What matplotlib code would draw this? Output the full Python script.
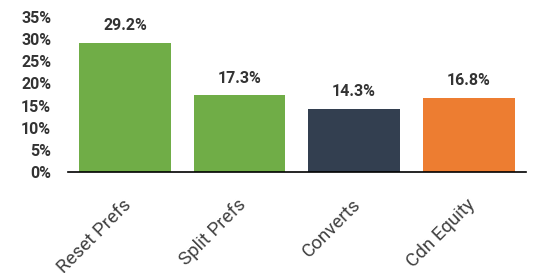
import matplotlib.pyplot as plt
from matplotlib.transforms import ScaledTranslation

categories = ["Reset Prefs", "Split Prefs", "Converts", "Cdn Equity"]
values = [29.2, 17.3, 14.3, 16.8]
colors = ["#70AD47", "#70AD47", "#333F50", "#ED7D31"]
yticks = [0, 5, 10, 15, 20, 25, 30, 35]

plt.rcParams["font.family"] = ["Roboto", "DejaVu Sans"]

fig = plt.figure(figsize=(5.34, 2.73), dpi=100)
ax = fig.add_axes([0.127, 0.37, 0.858, 0.568])

x = range(len(categories))
bars = ax.bar(x, values, width=0.8, color=colors)

for b, v in zip(bars, values):
    ax.annotate(f"{v:.1f}%", (b.get_x() + b.get_width() / 2, v),
                xytext=(0, 7), textcoords="offset points",
                ha="center", va="bottom", fontsize=11.5,
                fontweight="bold", color="#333333")

ax.set_xlim(-0.5, 3.5)
ax.set_ylim(0, 35)
ax.set_yticks(yticks)
ax.set_yticklabels([f"{t}%" for t in yticks], fontsize=11.5,
                   fontweight="bold", color="#333333")
ax.set_xticks(list(x))
ax.set_xticklabels(categories, rotation=45, ha="right",
                   rotation_mode="anchor", fontsize=13.5, color="#404040")
ax.tick_params(axis="both", length=0)
ax.tick_params(axis="y", pad=12)
ax.tick_params(axis="x", pad=17)

shift = ScaledTranslation(-3 / 100, 0, fig.dpi_scale_trans)
for lbl in ax.get_xticklabels():
    lbl.set_transform(lbl.get_transform() + shift)

for s in ["top", "right", "left"]:
    ax.spines[s].set_visible(False)
ax.spines["bottom"].set_linewidth(1.2)
ax.spines["bottom"].set_color("black")

fig.savefig("out.png", dpi=100)
